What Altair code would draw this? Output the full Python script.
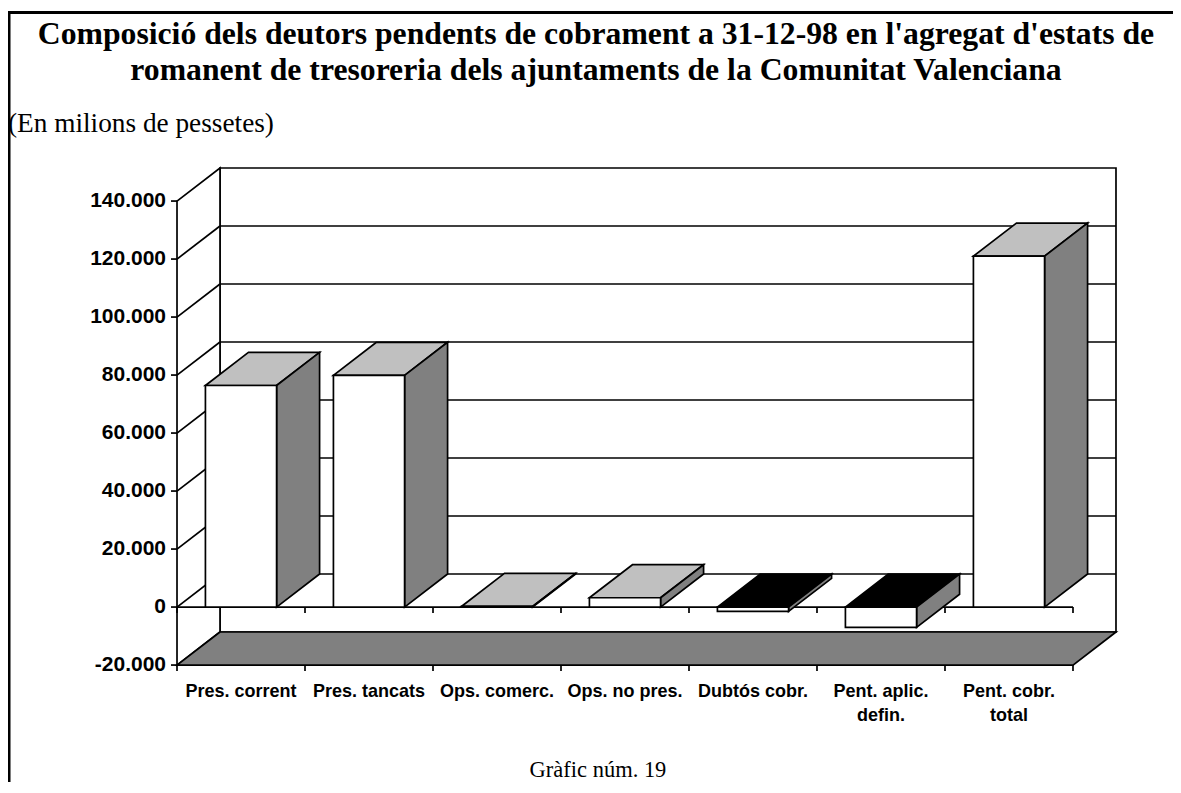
import altair as alt
import pandas as pd

# ---------------- data ----------------
categories = ["Pres. corrent", "Pres. tancats", "Ops. comerc.", "Ops. no pres.",
              "Dubtós cobr.", "Pent. aplic.\ndefin.", "Pent. cobr.\ntotal"]
values = [76400, 79900, 200, 3200, -1500, -7000, 121000]
y_ticks = [-20000, 0, 20000, 40000, 60000, 80000, 100000, 120000, 140000]
y_tick_labels = ["-20.000", "0", "20.000", "40.000", "60.000", "80.000",
                 "100.000", "120.000", "140.000"]

TITLE = ("Composició dels deutors pendents de cobrament a 31-12-98 en l'agregat d'estats de\n"
         "romanent de tresoreria dels ajuntaments de la Comunitat Valenciana")
SUBTITLE = "(En milions de pessetes)"
FOOTER = "Gràfic núm. 19"

# ---------------- 3D geometry (in data units) ----------------
N = len(categories)
YMIN, YMAX = y_ticks[0], y_ticks[-1]
DX = 43 / 128.0          # depth offset along x (category units)
DY = 11400               # depth offset along y (value units)
BAR_L, BAR_R = 0.222, 0.778
TICK = 2070              # small vertical tick length in value units
HTICK = 6 / 128.0        # small horizontal tick length in category units

W = 939
H = round((YMAX - YMIN + DY) * 0.0029, 2)

xs = alt.Scale(domain=[0, N + DX], nice=False, zero=False)
ys = alt.Scale(domain=[YMIN, YMAX + DY], nice=False, zero=False)
SW = 1.7
GREY_TOP = "#c0c0c0"
GREY_SIDE = "#808080"

# walls
back_wall = pd.DataFrame({"x": [DX], "x2": [N + DX], "y": [YMIN + DY], "y2": [YMAX + DY]})
left_wall = pd.DataFrame({"id": [0, 0], "x": [0, DX], "y": [YMIN, YMIN + DY], "y2": [YMAX, YMAX + DY]})
floor = pd.DataFrame({"id": [0, 0], "y": [YMIN, YMIN + DY], "x": [0, DX], "x2": [N, N + DX]})

inner = [t for t in y_ticks if YMIN < t < YMAX]
back_grid = pd.DataFrame({"x": [DX] * len(inner), "x2": [N + DX] * len(inner),
                          "y": [t + DY for t in inner]})
side_grid = pd.DataFrame({"x": [0] * len(inner), "x2": [DX] * len(inner),
                          "y": inner, "y2": [t + DY for t in inner]})
zero_line = pd.DataFrame({"x": [0], "x2": [N], "y": [0]})
ticks_rows = []
for k in range(N + 1):
    ticks_rows.append({"x": k, "y": 0, "y2": -TICK})
    ticks_rows.append({"x": k, "y": YMIN, "y2": YMIN - TICK})
ticks_df = pd.DataFrame(ticks_rows)
yaxis_df = pd.DataFrame({"x": [0] * len(y_ticks), "x2": [-HTICK] * len(y_ticks),
                         "y": y_ticks, "label": y_tick_labels})

# bars
fronts, tops, sides = [], [], []
for i, v in enumerate(values):
    a, b = i + BAR_L, i + BAR_R
    top, bot = max(v, 0), min(v, 0)
    fronts.append({"x": a, "x2": b, "y": bot, "y2": top})
    fill = GREY_TOP if v >= 0 else "black"
    tops.append({"id": i, "y": top, "x": a, "x2": b, "fill": fill})
    tops.append({"id": i, "y": top + DY, "x": a + DX, "x2": b + DX, "fill": fill})
    sides.append({"id": i, "x": b, "y": bot, "y2": top})
    sides.append({"id": i, "x": b + DX, "y": bot + DY, "y2": top + DY})
fronts = pd.DataFrame(fronts)
tops = pd.DataFrame(tops)
sides = pd.DataFrame(sides)

labels = pd.DataFrame({"x": [i + 0.5 for i in range(N)], "y": [YMIN] * N, "label": categories})


def X(f="x"):
    return alt.X(f"{f}:Q", scale=xs, axis=None)


def Y(f="y"):
    return alt.Y(f"{f}:Q", scale=ys, axis=None)


layers = []
layers.append(alt.Chart(back_wall).mark_rect(fill="white", stroke="black", strokeWidth=SW).encode(
    x=X(), x2="x2:Q", y=Y(), y2="y2:Q"))
layers.append(alt.Chart(back_grid).mark_rule(color="black", strokeWidth=SW).encode(
    x=X(), x2="x2:Q", y=Y()))
layers.append(alt.Chart(left_wall).mark_area(orient="vertical", fill="white", stroke="black",
                                             strokeWidth=SW).encode(
    x=X(), y=alt.Y("y:Q", scale=ys, axis=None, stack=None), y2="y2:Q", detail="id:N"))
layers.append(alt.Chart(side_grid).mark_rule(color="black", strokeWidth=SW).encode(
    x=X(), x2="x2:Q", y=Y(), y2="y2:Q"))
layers.append(alt.Chart(floor).mark_area(orient="horizontal", fill=GREY_SIDE, stroke="black",
                                         strokeWidth=SW).encode(
    y=Y(), x=alt.X("x:Q", scale=xs, axis=None, stack=None), x2="x2:Q", detail="id:N"))
layers.append(alt.Chart(zero_line).mark_rule(color="black", strokeWidth=SW).encode(
    x=X(), x2="x2:Q", y=Y()))
layers.append(alt.Chart(ticks_df).mark_rule(color="black", strokeWidth=SW).encode(
    x=X(), y=Y(), y2="y2:Q"))
# value axis: ticks and labels
layers.append(alt.Chart(yaxis_df).mark_rule(color="black", strokeWidth=SW).encode(
    x=X(), x2="x2:Q", y=Y()))
layers.append(alt.Chart(yaxis_df).mark_text(font="Liberation Sans", fontSize=21, fontWeight="bold",
                                           color="black", align="right", baseline="middle",
                                           dx=-11).encode(
    x=X(), y=Y(), text="label:N"))
# bars
layers.append(alt.Chart(tops).mark_area(orient="horizontal", stroke="black", strokeWidth=SW).encode(
    y=Y(), x=alt.X("x:Q", scale=xs, axis=None, stack=None), x2="x2:Q", detail="id:N",
    fill=alt.Fill("fill:N", scale=None, legend=None)))
layers.append(alt.Chart(sides).mark_area(orient="vertical", fill=GREY_SIDE, stroke="black",
                                         strokeWidth=SW).encode(
    x=X(), y=alt.Y("y:Q", scale=ys, axis=None, stack=None), y2="y2:Q", detail="id:N"))
layers.append(alt.Chart(fronts).mark_rect(fill="white", stroke="black", strokeWidth=SW).encode(
    x=X(), x2="x2:Q", y=Y(), y2="y2:Q"))
# category labels
layers.append(alt.Chart(labels).mark_text(font="Liberation Sans", fontSize=18, fontWeight="bold",
                                          color="black", baseline="alphabetic", align="center",
                                          dy=32, lineBreak="\n", lineHeight=24).encode(
    x=X(), y=Y(), text="label:N"))

# text annotations and page frame
layers.append(alt.Chart(pd.DataFrame({"t": [TITLE]})).mark_text(
    font="Liberation Serif", fontSize=31.7, fontWeight="bold", color="black",
    align="center", baseline="alphabetic", lineBreak="\n", lineHeight=36).encode(
    x=alt.value(419), y=alt.value(-124), text="t:N"))
layers.append(alt.Chart(pd.DataFrame({"t": [SUBTITLE]})).mark_text(
    font="Liberation Serif", fontSize=27.3, color="black", align="left", baseline="alphabetic").encode(
    x=alt.value(-169), y=alt.value(-36), text="t:N"))
layers.append(alt.Chart(pd.DataFrame({"t": [FOOTER]})).mark_text(
    font="Liberation Serif", fontSize=22.5, color="black", align="center", baseline="alphabetic").encode(
    x=alt.value(421), y=alt.value(609), text="t:N"))
layers.append(alt.Chart(pd.DataFrame({"t": [0]})).mark_rule(color="black", strokeWidth=3).encode(
    x=alt.value(-168), y=alt.value(-157), y2=alt.value(H + 130)))
layers.append(alt.Chart(pd.DataFrame({"t": [0]})).mark_rule(color="black", strokeWidth=3).encode(
    x=alt.value(-169), x2=alt.value(W + 60), y=alt.value(-155.5)))

chart = alt.layer(*layers).properties(
    width=W, height=H,
    autosize=alt.AutoSizeParams(type="none"),
    padding={"left": 169, "top": 160, "right": 57, "bottom": 117},
    background="white",
).configure_view(stroke=None)

chart.save("out.html", embed_options={"renderer": "svg", "actions": False})
